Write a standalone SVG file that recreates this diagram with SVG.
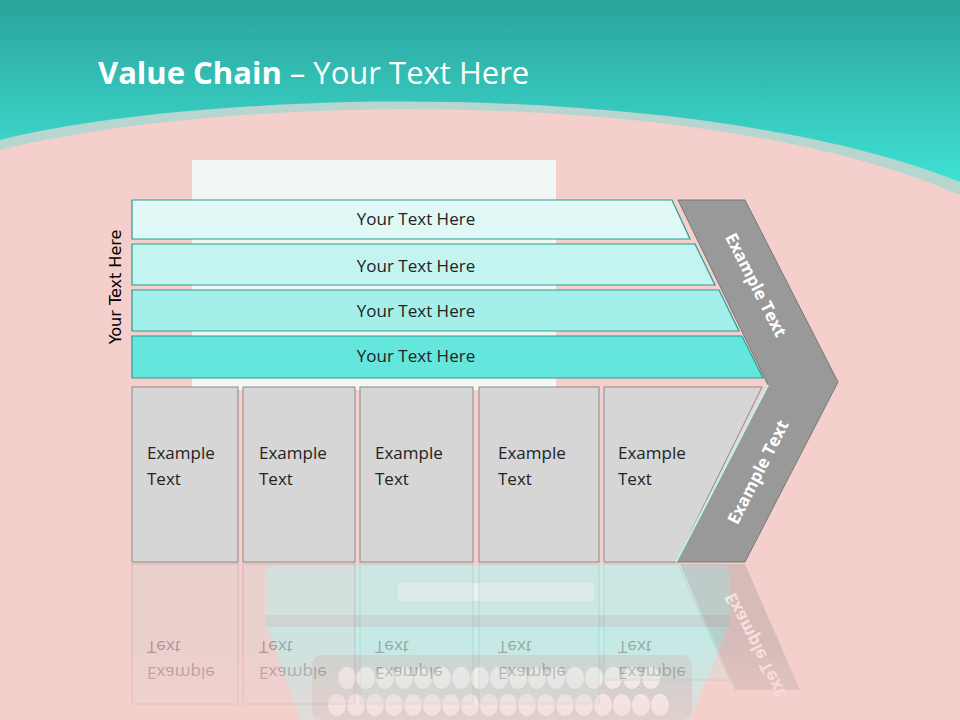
<svg xmlns="http://www.w3.org/2000/svg" width="960" height="720" viewBox="0 0 960 720">
<defs>
<linearGradient id="hdr" x1="0" y1="0" x2="0" y2="1"><stop offset="0" stop-color="#2aa39b"/><stop offset="1" stop-color="#3fe0d4"/></linearGradient>
<linearGradient id="fade" x1="0" y1="0" x2="0" y2="1"><stop offset="0" stop-color="#f5cfcb" stop-opacity="0"/><stop offset="1" stop-color="#f5cfcb" stop-opacity="0.6"/></linearGradient>
<style>
.bar{stroke:#2a9b92;stroke-width:1.2}
.bt{font-family:"Open Sans","Liberation Sans",sans-serif;font-size:17px;fill:#222;text-anchor:middle}
.box{fill:#d6d6d6;stroke:#8a8a8a;stroke-width:1}
.et{font-family:"Open Sans","Liberation Sans",sans-serif;font-size:17px;fill:#222}
.ct{font-family:"Open Sans","Liberation Sans",sans-serif;font-size:17px;font-weight:bold;fill:#fff;text-anchor:middle}
.key{fill:#f2fbfa}
</style>
</defs>
<rect width="960" height="720" fill="#f5cfcb"/>
<g id="typewriter" opacity="0.9">
<rect x="192" y="160" width="364" height="230" fill="#f2fafa"/>
<rect x="265" y="565" width="465" height="60" rx="10" fill="#cfe9e6"/>
<rect x="398" y="583" width="196" height="18" rx="3" fill="#eef3f2"/>
<rect x="265" y="615" width="465" height="12" fill="#c8d3d1"/>
<polygon points="268,627 728,627 690,720 300,720" fill="#c4f0ec"/>
<rect x="312" y="655" width="380" height="65" rx="10" fill="#bfd1cf"/>
<g class="key">
<ellipse cx="347" cy="678" rx="9" ry="11"/><ellipse cx="366" cy="678" rx="9" ry="11"/><ellipse cx="385" cy="678" rx="9" ry="11"/><ellipse cx="404" cy="678" rx="9" ry="11"/><ellipse cx="423" cy="678" rx="9" ry="11"/><ellipse cx="442" cy="678" rx="9" ry="11"/><ellipse cx="461" cy="678" rx="9" ry="11"/><ellipse cx="480" cy="678" rx="9" ry="11"/><ellipse cx="499" cy="678" rx="9" ry="11"/><ellipse cx="518" cy="678" rx="9" ry="11"/><ellipse cx="537" cy="678" rx="9" ry="11"/><ellipse cx="556" cy="678" rx="9" ry="11"/><ellipse cx="575" cy="678" rx="9" ry="11"/><ellipse cx="594" cy="678" rx="9" ry="11"/><ellipse cx="613" cy="678" rx="9" ry="11"/><ellipse cx="632" cy="678" rx="9" ry="11"/><ellipse cx="651" cy="678" rx="9" ry="11"/>
<ellipse cx="337" cy="705" rx="9" ry="11"/><ellipse cx="356" cy="705" rx="9" ry="11"/><ellipse cx="375" cy="705" rx="9" ry="11"/><ellipse cx="394" cy="705" rx="9" ry="11"/><ellipse cx="413" cy="705" rx="9" ry="11"/><ellipse cx="432" cy="705" rx="9" ry="11"/><ellipse cx="451" cy="705" rx="9" ry="11"/><ellipse cx="470" cy="705" rx="9" ry="11"/><ellipse cx="489" cy="705" rx="9" ry="11"/><ellipse cx="508" cy="705" rx="9" ry="11"/><ellipse cx="527" cy="705" rx="9" ry="11"/><ellipse cx="546" cy="705" rx="9" ry="11"/><ellipse cx="565" cy="705" rx="9" ry="11"/><ellipse cx="584" cy="705" rx="9" ry="11"/><ellipse cx="603" cy="705" rx="9" ry="11"/><ellipse cx="622" cy="705" rx="9" ry="11"/><ellipse cx="641" cy="705" rx="9" ry="11"/><ellipse cx="660" cy="705" rx="9" ry="11"/>
</g>
</g>
<path d="M0,0 H960 V195 C800,125 550,105 350,110 C200,114 80,130 0,150 Z" fill="#b7d6cf"/>
<path d="M0,0 H960 V182 C800,118 550,98 350,102 C200,106 80,120 0,140 Z" fill="url(#hdr)"/>
<text x="98" y="84" font-family="Open Sans, Liberation Sans, sans-serif" font-size="31" fill="#fff"><tspan font-weight="bold">Value Chain</tspan> – Your Text Here</text>
<g id="reflection" opacity="0.35">
<rect x="132" y="564" width="106" height="140" fill="#d6d6d6" stroke="#8a8a8a"/>
<rect x="243" y="564" width="112" height="140" fill="#d6d6d6" stroke="#8a8a8a"/>
<rect x="360" y="564" width="113" height="140" fill="#c0e8e4" stroke="#5fc8c0"/>
<rect x="479" y="564" width="120" height="140" fill="#c0e8e4" stroke="#5fc8c0"/>
<polygon points="604,564 678,564 730,680 604,680" fill="#c0e8e4" stroke="#5fc8c0"/>
<polygon points="680,564 745,564 800,690 735,690" fill="#9a9a9a"/>
<g class="et" fill="#555" transform="translate(0,1126) scale(1,-1)"><text x="147" y="459">Example</text><text x="147" y="485">Text</text><text x="259" y="459">Example</text><text x="259" y="485">Text</text><text x="375" y="459">Example</text><text x="375" y="485">Text</text><text x="498" y="459">Example</text><text x="498" y="485">Text</text><text x="618" y="459">Example</text><text x="618" y="485">Text</text></g>
<text class="ct" transform="translate(755,645) rotate(63) scale(1,-1)" dy="6">Example Text</text>
</g>
<rect x="120" y="640" width="720" height="80" fill="url(#fade)"/>
<text transform="translate(121,287) rotate(-90)" font-family="DejaVu Sans, Verdana, sans-serif" font-size="16" fill="#000" text-anchor="middle">Your Text Here</text>
<g id="bar1"><polygon class="bar" points="132,200 672,200 690,239 132,239" fill="#e0f8f6"/><text class="bt" x="416" y="225">Your Text Here</text></g>
<g id="bar2"><polygon class="bar" points="132,244 695,244 715,285 132,285" fill="#c3f4ef"/><text class="bt" x="416" y="272">Your Text Here</text></g>
<g id="bar3"><polygon class="bar" points="132,290 719,290 739,331 132,331" fill="#a2f0e9"/><text class="bt" x="416" y="317">Your Text Here</text></g>
<g id="bar4"><polygon class="bar" points="132,336 742,336 763,378 132,378" fill="#65e6dc"/><text class="bt" x="416" y="362">Your Text Here</text></g>
<g id="box1"><rect class="box" x="132" y="387" width="106" height="175"/><text class="et" x="147" y="459">Example</text><text class="et" x="147" y="485">Text</text></g>
<g id="box2"><rect class="box" x="243" y="387" width="112" height="175"/><text class="et" x="259" y="459">Example</text><text class="et" x="259" y="485">Text</text></g>
<g id="box3"><rect class="box" x="360" y="387" width="113" height="175"/><text class="et" x="375" y="459">Example</text><text class="et" x="375" y="485">Text</text></g>
<g id="box4"><rect class="box" x="479" y="387" width="120" height="175"/><text class="et" x="498" y="459">Example</text><text class="et" x="498" y="485">Text</text></g>
<g id="box5"><polygon class="box" points="604,387 762,387 676,562 604,562"/><text class="et" x="618" y="459">Example</text><text class="et" x="618" y="485">Text</text></g>
<g id="chevron">
<polygon points="678,200 745,200 838,382 745,562 676,562 768,385" fill="#999" stroke="#777" stroke-width="1"/>
<polyline points="676,562 768,385" fill="none" stroke="#bff2ee" stroke-width="2"/>
<text class="ct" transform="translate(756,285) rotate(63)" dy="6">Example Text</text>
<text class="ct" transform="translate(758,472) rotate(-63)" dy="6">Example Text</text>
</g>
<g id="connectors"/>
</svg>
